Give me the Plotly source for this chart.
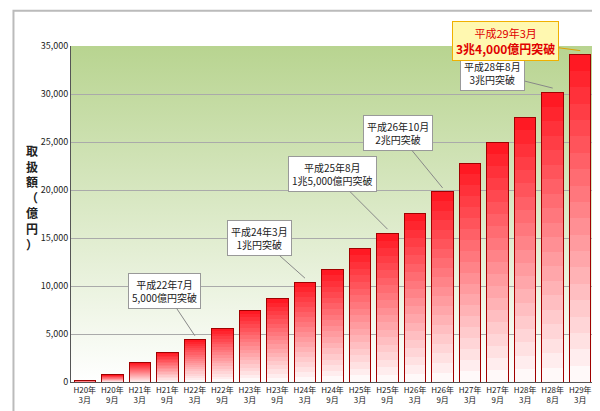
import plotly.graph_objects as go
import base64

categories = ["H20年<br>3月","H20年<br>9月","H21年<br>3月","H21年<br>9月","H22年<br>3月","H22年<br>9月",
              "H23年<br>3月","H23年<br>9月","H24年<br>3月","H24年<br>9月","H25年<br>3月","H25年<br>9月",
              "H26年<br>3月","H26年<br>9月","H27年<br>3月","H27年<br>9月","H28年<br>3月","H28年<br>8月","H29年<br>3月"]
values = [200, 750, 2000, 3100, 4400, 5600, 7500, 8700, 10400, 11700, 13900, 15500,
          17600, 19800, 22800, 25000, 27600, 30200, 34100]
tick_vals = [0, 5000, 10000, 15000, 20000, 25000, 30000, 35000]
tick_text = ["0", "5,000", "10,000", "15,000", "20,000", "25,000", "30,000", "35,000"]
callouts = [
    (4, "平成22年7月<br>5,000億円突破"),
    (8, "平成24年3月<br>1兆円突破"),
    (11, "平成25年8月<br>1兆5,000億円突破"),
    (13, "平成26年10月<br>2兆円突破"),
    (17, "平成28年8月<br>3兆円突破"),
]
callout_pos = [(-30, -45), (-45, -40), (-55, -55), (-45, -55), (-60, -15)]

fig = go.Figure()
N = 20
x = list(range(len(categories)))
for k in range(N):
    t = (k + 0.5) / N
    g = int(255 - (255 - 20) * t)
    b = int(255 - (255 - 30) * t)
    fig.add_trace(go.Bar(x=x, y=[v / N for v in values], marker_color=f"rgb(255,{g},{b})",
                         marker_line_width=0, width=0.78, hoverinfo="skip", showlegend=False))
fig.add_trace(go.Bar(x=x, y=values, marker_color="rgba(0,0,0,0)", xaxis="x2", yaxis="y2",
                     marker_line=dict(color="#a00000", width=1), width=0.78, showlegend=False,
                     hoverinfo="skip"))

svg = ('<svg xmlns="http://www.w3.org/2000/svg" width="10" height="100" preserveAspectRatio="none">'
       '<defs><linearGradient id="g" x1="0" y1="0" x2="0" y2="1">'
       '<stop offset="0" stop-color="#b8d490"/><stop offset="1" stop-color="#ffffff"/></linearGradient></defs>'
       '<rect width="10" height="100" fill="url(#g)"/></svg>')
uri = "data:image/svg+xml;base64," + base64.b64encode(svg.encode()).decode()
fig.add_layout_image(source=uri, xref="paper", yref="paper", x=0, y=1, sizex=1, sizey=1,
                     sizing="stretch", layer="below", xanchor="left", yanchor="top")

for (i, txt), (ax, ay) in zip(callouts, callout_pos):
    fig.add_annotation(x=i, y=values[i], text=txt, showarrow=True, arrowhead=0, arrowcolor="#888",
                       ax=ax, ay=ay, yshift=4, bgcolor="white", bordercolor="#999", borderwidth=1,
                       borderpad=3, font=dict(size=10, color="#222"))
fig.add_annotation(x=18, y=values[18], text="<span style='font-size:11px'>平成29年3月</span><br><b>3兆4,000億円突破</b>",
                   showarrow=True, arrowhead=0, arrowcolor="#e0a000", ax=-75, ay=-10, yshift=4,
                   bgcolor="#fff8b0", bordercolor="#f0b000", borderwidth=1, borderpad=3,
                   font=dict(size=12, color="#e00000"))
fig.add_annotation(x=-0.09, y=0.55, xref="paper", yref="paper", showarrow=False,
                   text="<b>取<br>扱<br>額<br>（<br>億<br>円<br>）</b>", font=dict(size=12), align="center")

fig.update_layout(
    width=600, height=411, paper_bgcolor="white", plot_bgcolor="rgba(0,0,0,0)",
    barmode="stack",
    margin=dict(l=63, r=14, t=38, b=37),
    font=dict(family="Noto Sans CJK JP", color="#222"),
    xaxis=dict(tickmode="array", tickvals=x, ticktext=categories, range=[-0.5, 18.5],
               tickfont=dict(size=8), showgrid=False, showline=True, linecolor="#555", ticks=""),
    xaxis2=dict(overlaying="x", range=[-0.5, 18.5], visible=False),
    yaxis=dict(range=[0, 35000], tickvals=tick_vals, ticktext=tick_text, tickfont=dict(size=9),
               gridcolor="#aaa", gridwidth=1, showline=True, linecolor="#555", ticks="",
               zeroline=False),
    yaxis2=dict(overlaying="y", range=[0, 35000], visible=False),
    shapes=[dict(type="rect", xref="paper", yref="paper", x0=-0.11, x1=1.018, y0=-0.105, y1=1.105,
                 line=dict(color="#bbb", width=2))],
)
fig.write_html("out.html")
